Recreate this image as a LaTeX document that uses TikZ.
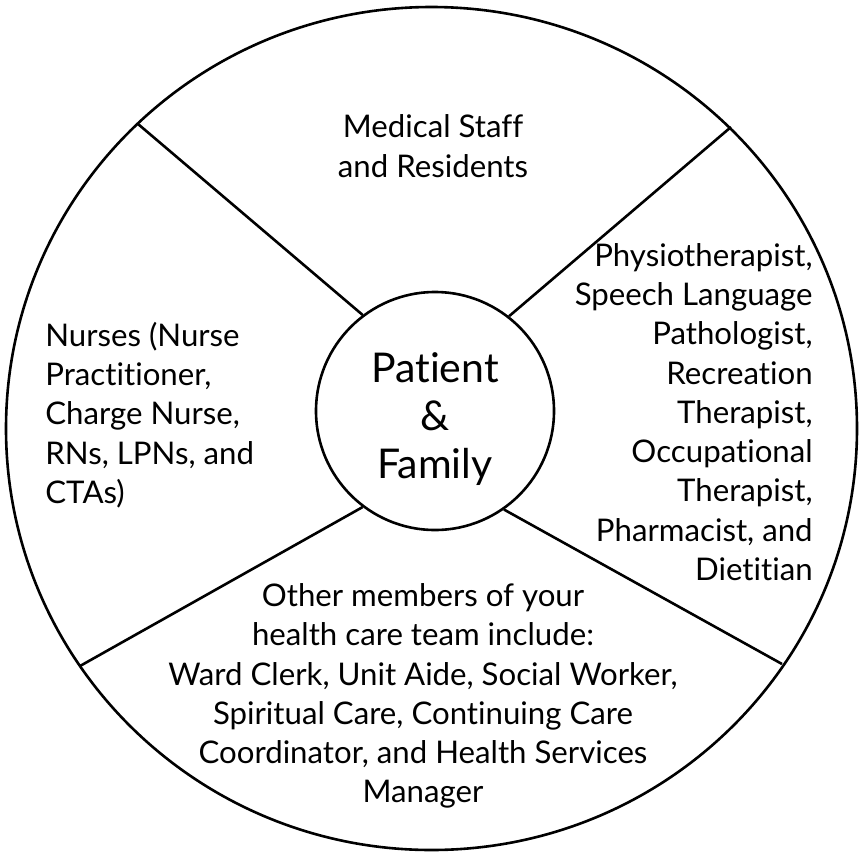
\documentclass[tikz,border=0pt]{standalone}
\usepackage{fontspec}
\setmainfont{Lato}[Ligatures=NoCommon]
\usetikzlibrary{calc}
\tikzset{
  ring/.style={line width=1.3pt},
  team/.style={font=\fontsize{15.6}{19.65}\selectfont, inner sep=0pt},
}
\begin{document}
\begin{tikzpicture}[x=0.5pt,y=-0.5pt]
\useasboundingbox (0,0) rectangle (862,852);
\draw[ring] (431.5,428.5) ellipse [x radius=425.5, y radius=421.5];
\node[draw, ring, circle, minimum size=119pt, inner sep=0pt] (pf) at (435,411) {};
\node[inner sep=0pt, align=center, font=\fontsize{20.5}{23.8}\selectfont] (pftext) at (435,419) {Patient\\\&\\Family};
\coordinate (tl) at (138,124);
\coordinate (tr) at (731,127);
\coordinate (bl) at (80,666);
\coordinate (br) at (782,664);
\foreach \a/\c in {127.5/tl, 52.2/tr, 233.7/bl, 305.8/br}{
\draw[ring] (pf.\a) -- (\c);
}
\node[team, align=center] (med) at (433,146) {Medical Staff\\and Residents};
\node[team, align=left, anchor=west] (nurse) at (45,415) {Nurses (Nurse\\Practitioner,\\Charge Nurse,\\RNs, LPNs, and\\CTAs)};
\node[team, align=right, anchor=east] (allied) at (813,412) {Physiotherapist,\\Speech Language\\Pathologist,\\Recreation\\Therapist,\\Occupational\\Therapist,\\Pharmacist, and\\Dietitian};
\node[team, align=center] (other) at (423,696) {Other members of your\\health care team include:\\Ward Clerk, Unit Aide, Social Worker,\\Spiritual Care, Continuing Care\\Coordinator, and Health Services\\Manager};
\end{tikzpicture}
\end{document}
